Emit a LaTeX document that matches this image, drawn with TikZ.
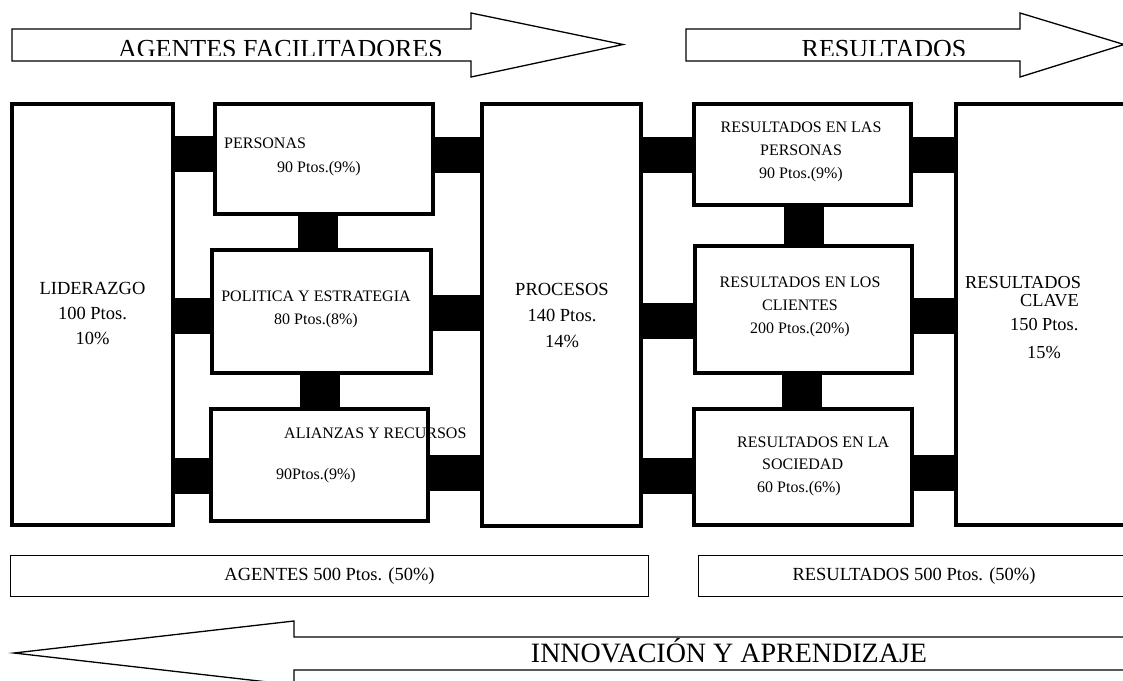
\documentclass[tikz,border=0pt]{standalone}
\usepackage{fontspec}
\setmainfont{Liberation Serif}
\usepackage{tikz}

\begin{document}
\begin{tikzpicture}[x=1pt,y=-1pt]
        \tikzstyle{caja}=[rectangle,draw=black,line width=4pt,inner sep=0pt]
        \tikzstyle{txt}=[inner sep=0pt,font=\fontsize{16}{23}\selectfont]
        \tikzstyle{grande}=[inner sep=0pt,font=\fontsize{18.5}{25}\selectfont,align=center]
        \tikzstyle{barra}=[line width=36pt,black]
        \tikzstyle{flecha}=[draw=black,line width=1.3pt,fill=white]
        \tikzstyle{titulo}=[inner sep=0pt,font=\fontsize{26}{30}\selectfont]
        \tikzstyle{total}=[rectangle,draw=black,line width=1.2pt,minimum height=40.8pt,font=\fontsize{18.5}{22}\selectfont]

        \useasboundingbox (0,0) rectangle (1123,680);
        \clip (0,0) rectangle (1123,680);

        % flechas de arriba
        \draw[flecha] (12,29) -- (471,29) -- (471,13) -- (623,44.5) -- (471,77) -- (471,61) -- (12,61) -- cycle;
        \draw[flecha] (686,29) -- (1020,29) -- (1020,13) -- (1124,44.5) -- (1020,77) -- (1020,61) -- (686,61) -- cycle;
        \begin{scope}
            \clip (12,29) rectangle (1020,55);
            \node[titulo,anchor=base] (t-age) at (280.5,57.7) {AGENTES FACILITADORES};
            \node[titulo,anchor=base] (t-res) at (884,57.7) {RESULTADOS};
        \end{scope}

        % cajas: nombre/x/y/ancho/alto
        \foreach \nom/\x/\y/\w/\h in {lid/92.5/314.5/161/421, per/324/159/218/110, pol/321.5/311.5/219/123,
                ali/319.5/465/217/112, pro/561.5/315/159/422, rpe/802.5/154.5/217/101,
                rcl/803.5/309.5/217/127, rso/803/467/218/116, rcv/1077/314.5/242/421}
            \node[caja,minimum width=\w pt,minimum height=\h pt] (\nom) at (\x,\y) {};

        % barras entre cajas
        \foreach \from/\to/\dy in {lid/per/5, lid/pol/-4.5, lid/ali/-10.5, pro/rpe/0, pro/rcl/-11, pro/rso/-8.5}
        {
            \coordinate (b) at ([yshift=\dy pt]\to.west);
            \draw[barra] (\from.east |- b) -- (b);
        }
        \foreach \from/\to/\dy in {per/pro/4.5, pol/pro/-1, ali/pro/-7.5, rpe/rcv/0, rcl/rcv/-6.5, rso/rcv/-6}
        {
            \coordinate (b) at ([yshift=\dy pt]\from.east);
            \draw[barra] (b) -- (b -| \to.west);
        }
        \foreach \from/\to/\dx in {per/pol/-6, pol/ali/-1.5, rpe/rcl/1, rcl/rso/-1.5}
        {
            \coordinate (b) at ([xshift=\dx pt]\from.south);
            \draw[barra,line width=40pt] (b) -- (b |- \to.north);
        }

        % textos
        \node[grande] (t-lid) at ([shift={(0,-1.5)}]lid.center) {LIDERAZGO\\100 Ptos.\\10\%};
        \node[grande,font=\fontsize{18.5}{26}\selectfont] (t-pro) at ([shift={(0.5,0)}]pro.center) {PROCESOS\\140 Ptos.\\14\%};
        \node[txt,align=left,anchor=west,font=\fontsize{16}{24}\selectfont] (t-per) at ([shift={(11,-2)}]per.west)
            {PERSONAS\\\hspace*{53pt}90 Ptos.(9\%)};
        \node[txt,align=center] (t-pol) at ([shift={(-5.5,-2)}]pol.center) {POLITICA Y ESTRATEGIA\\80 Ptos.(8\%)};
        \node[txt,align=left,anchor=west] (t-ali) at ([shift={(67,-9.5)}]ali.west)
            {\hspace*{8pt}ALIANZAS Y RECURSOS\\[18pt]90Ptos.(9\%)};
        \node[txt,align=center] (t-rpe) at ([shift={(-1.5,-2.5)}]rpe.center) {RESULTADOS EN LAS\\PERSONAS\\90 Ptos.(9\%)};
        \node[txt,align=center] (t-rcl) at ([shift={(-3.5,-2.5)}]rcl.center) {RESULTADOS EN LOS\\CLIENTES\\200 Ptos.(20\%)};
        \node[txt,align=left,anchor=west,font=\fontsize{16}{22.5}\selectfont] (t-rso) at ([shift={(45,-1)}]rso.west)
            {RESULTADOS EN LA\\\hspace*{25pt}SOCIEDAD\\\hspace*{20pt}60 Ptos.(6\%)};
        \node[grande,align=left,anchor=west,font=\fontsize{18.3}{24}\selectfont] (t-rcv) at ([shift={(11,3.5)}]rcv.west)
            {RESULTADOS\\[-6pt]\hspace*{55pt}CLAVE\\\hspace*{45pt}150 Ptos.\\[4pt]\hspace*{62pt}15\%};

        % totales
        \node[total,minimum width=637.8pt] (age) at (329.5,576) {AGENTES 500 Ptos. (50\%)};
        \node[total,minimum width=430.8pt] (res) at (914,576) {RESULTADOS 500 Ptos. (50\%)};

        % flecha de abajo
        \draw[flecha] (1140,637) -- (294,637) -- (294,621) -- (14,653) -- (294,685) -- (294,670) -- (1140,670);
        \node[titulo,font=\fontsize{28}{32}\selectfont,anchor=base] (t-inn) at (729,662) {INNOVACIÓN Y APRENDIZAJE};
\end{tikzpicture}
\end{document}
